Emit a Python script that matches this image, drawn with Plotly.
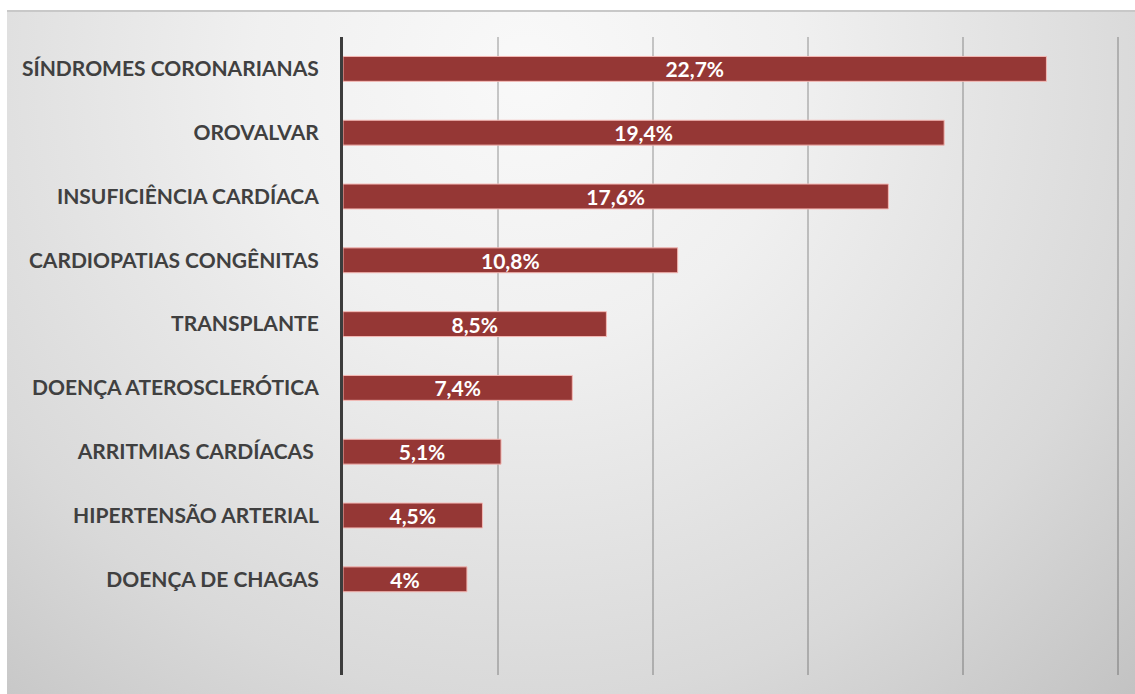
import base64
import plotly.graph_objects as go

# Categories (top to bottom) and their shares in percent
categories = [
    "SÍNDROMES CORONARIANAS",
    "OROVALVAR",
    "INSUFICIÊNCIA CARDÍACA",
    "CARDIOPATIAS CONGÊNITAS",
    "TRANSPLANTE",
    "DOENÇA ATEROSCLERÓTICA",
    "ARRITMIAS CARDÍACAS ",
    "HIPERTENSÃO ARTERIAL",
    "DOENÇA DE CHAGAS",
]
values = [22.7, 19.4, 17.6, 10.8, 8.5, 7.4, 5.1, 4.5, 4.0]
x_ticks = [0, 5, 10, 15, 20, 25]


def pct_label(v):
    s = f"{v:.1f}".rstrip("0").rstrip(".")
    return s.replace(".", ",") + "%"


labels = [pct_label(v) for v in values]

W, H = 1135, 694
X_MAX = 25.3
ML, MR, MT, MB = 343, 8, 37, 19
plot_w = W - ML - MR
plot_h = H - MT - MB

# Soft radial gray backdrop for the panel
fx0, fy0 = 7, 10
fw, fh = W - fx0, H - fy0
svg = f"""<svg xmlns='http://www.w3.org/2000/svg' width='{fw}' height='{fh}' viewBox='0 0 {fw} {fh}' preserveAspectRatio='none'>
<defs><radialGradient id='g' gradientUnits='userSpaceOnUse' cx='520' cy='60' r='900'>
<stop offset='0' stop-color='#f9f9f9'/>
<stop offset='0.3' stop-color='#f0f0f0'/>
<stop offset='0.7' stop-color='#d9d9d9'/>
<stop offset='1' stop-color='#c0c0c0'/>
</radialGradient></defs>
<rect x='0' y='0' width='{fw}' height='{fh}' fill='url(#g)'/>
<rect x='0' y='0' width='{fw}' height='2' fill='#c8c8c8'/>
</svg>"""
bg_uri = "data:image/svg+xml;base64," + base64.b64encode(svg.encode()).decode()

fig = go.Figure()
fig.add_trace(
    go.Bar(
        x=values,
        y=list(range(len(categories))),
        orientation="h",
        marker=dict(color="#953735", line=dict(color="#f4b8b4", width=1)),
        text=labels,
        textposition="inside",
        insidetextanchor="middle",
        textangle=0,
        constraintext="none",
        insidetextfont=dict(family="Lato, sans-serif", size=21, color="white", weight="bold"),
        hoverinfo="skip",
    )
)

fig.update_layout(
    width=W,
    height=H,
    margin=dict(l=ML, r=MR, t=MT, b=MB),
    paper_bgcolor="white",
    plot_bgcolor="rgba(0,0,0,0)",
    bargap=0.61,
    showlegend=False,
    images=[
        dict(
            source=bg_uri,
            xref="paper",
            yref="paper",
            x=(fx0 - ML) / plot_w,
            y=(H - MB - fy0) / plot_h,
            sizex=fw / plot_w,
            sizey=fh / plot_h,
            xanchor="left",
            yanchor="top",
            sizing="stretch",
            layer="below",
        )
    ],
    xaxis=dict(
        range=[0, X_MAX],
        tickvals=x_ticks,
        showticklabels=False,
        showgrid=True,
        gridcolor="rgba(0,0,0,0.2)",
        gridwidth=1.5,
        zeroline=False,
        showline=False,
        fixedrange=True,
    ),
    yaxis=dict(
        range=[9.5, -0.5],
        tickvals=list(range(len(categories))),
        ticktext=categories,
        tickfont=dict(family="Lato, sans-serif", size=21, color="#404040", weight="bold"),
        ticks="",
        ticklabelstandoff=17,
        showgrid=False,
        zeroline=False,
        showline=True,
        linecolor="#3c3c3c",
        linewidth=3,
        fixedrange=True,
    ),
)

fig.write_html("out.html")
